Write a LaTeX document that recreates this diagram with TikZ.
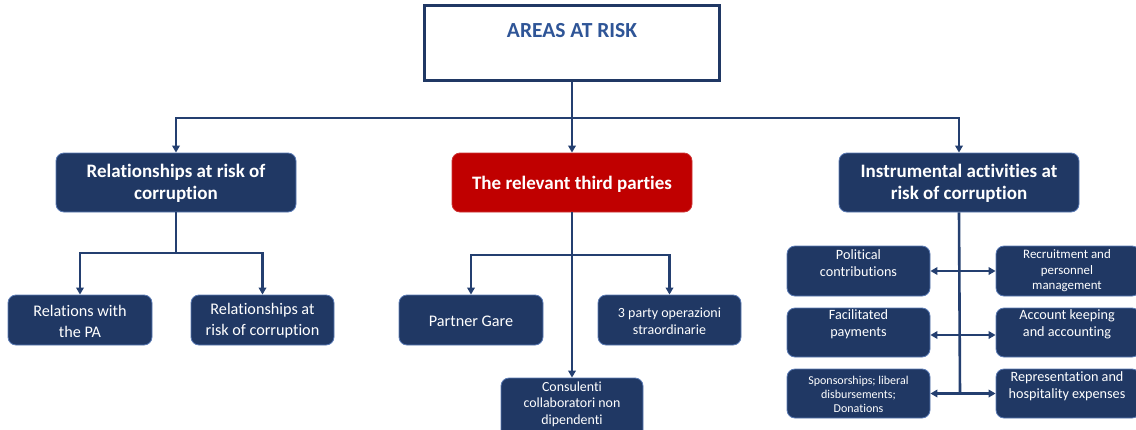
\documentclass[tikz,border=0pt]{standalone}
\usepackage{fontspec}
\setmainfont{Carlito}[Ligatures=NoCommon]
\usetikzlibrary{arrows.meta}
\definecolor{navy}{HTML}{203864}
\definecolor{bord}{HTML}{5B7BB5}
\definecolor{lnc}{HTML}{243F70}
\definecolor{ttl}{HTML}{2F5597}
\definecolor{rd}{HTML}{C00000}
\tikzset{
  bx/.style={draw=bord, line width=0.8pt, fill=navy, rounded corners=8pt, inner sep=0pt},
  rbx/.style={bx, fill=rd, draw=rd!80!white},
  tw/.style={text=white, align=center, inner sep=0pt},
  lnk/.style={draw=lnc, line width=2.6pt},
  arr/.style={lnk, -{Triangle[length=7pt,width=7.5pt]}},
  darr/.style={lnk, {Triangle[length=7pt,width=7.5pt]}-{Triangle[length=7pt,width=7.5pt]}},
  f1/.style={font=\fontsize{19}{22}\selectfont\bfseries},
  f2/.style={font=\fontsize{16.2}{21}\selectfont},
  f3/.style={font=\fontsize{14.2}{17}\selectfont},
}
\begin{document}
\begin{tikzpicture}[x=1pt,y=-1pt]
\useasboundingbox[fill=white] (0,0) rectangle (1136,429);
% top
\node[draw=navy, line width=3pt, fill=white, minimum width=295pt, minimum height=75pt, inner sep=0pt] (top) at (572,42.5) {};
\node[text=ttl, inner sep=0pt, font=\fontsize{21.5}{24}\selectfont\bfseries] (topt) at (572,31) {AREAS AT RISK};
% level 1
\node[bx, minimum width=240pt, minimum height=59pt] (L1) at (176,182.5) {};
\node[tw, f1] (L1t) at (176,183) {Relationships at risk of\\corruption};
\node[rbx, minimum width=240pt, minimum height=59pt] (M1) at (572,182.5) {};
\node[tw, f1] (M1t) at (572,184) {The relevant third parties};
\node[bx, minimum width=240pt, minimum height=59pt] (R1) at (959,182.5) {};
\node[tw, f1] (R1t) at (959,183) {Instrumental activities at\\risk of corruption};
% left subtree
\node[bx, minimum width=144pt, minimum height=50pt] (L2a) at (80,320) {};
\node[tw, f2] (L2at) at (80,321) {Relations with\\the PA};
\node[bx, minimum width=143pt, minimum height=50pt] (L2b) at (262.5,320) {};
\node[tw, f2] (L2bt) at (262.5,321) {Relationships at\\risk of corruption};
% middle subtree
\node[bx, minimum width=144pt, minimum height=50pt] (M2a) at (471,320) {};
\node[tw, f2] (M2at) at (471,321) {Partner Gare};
\node[bx, minimum width=143pt, minimum height=50pt] (M2b) at (669.5,320) {};
\node[tw, font=\fontsize{14}{17}\selectfont] (M2bt) at (669.5,321) {3 party operazioni\\straordinarie};
\node[bx, minimum width=142pt, minimum height=60pt] (M3) at (572,408) {};
\node[tw, font=\fontsize{13.9}{16.5}\selectfont] (M3t) at (572,404) {Consulenti\\collaboratori non\\dipendenti};
% right subtree
\node[bx, minimum width=143pt, minimum height=50pt] (RL1) at (858.5,271) {};
\node[tw, f3] (RL1t) at (858.5,263) {Political\\contributions};
\node[bx, minimum width=144pt, minimum height=50pt] (RR1) at (1068,271) {};
\node[tw, font=\fontsize{12.9}{15.5}\selectfont] (RR1t) at (1067,271) {Recruitment and\\personnel\\management};
\node[bx, minimum width=143pt, minimum height=49pt] (RL2) at (858.5,332.5) {};
\node[tw, f3] (RL2t) at (858.5,324.5) {Facilitated\\payments};
\node[bx, minimum width=144pt, minimum height=49pt] (RR2) at (1068,332.5) {};
\node[tw, f3] (RR2t) at (1067,324.5) {Account keeping\\and accounting};
\node[bx, minimum width=143pt, minimum height=49pt] (RL3) at (858.5,393.5) {};
\node[tw, font=\fontsize{12}{14}\selectfont] (RL3t) at (858.5,394) {Sponsorships; liberal\\disbursements;\\Donations};
\node[bx, minimum width=144pt, minimum height=49pt] (RR3) at (1068,393.5) {};
\node[tw, f3] (RR3t) at (1067,386.5) {Representation and\\hospitality expenses};
% connectors
\coordinate (j0) at (572,118);
\coordinate (jL) at (176,253);
\coordinate (jM) at (572,255);
\coordinate (rend) at (960,394);
\draw[lnk] (top.south) -- (j0);
\draw[arr] (j0) -| (L1.north);
\draw[arr] (j0) -- (M1.north);
\draw[arr] (j0) -| (R1.north);
\draw[lnk] (L1.south) -- (jL);
\draw[arr] (jL) -| (L2a.north);
\draw[arr] (jL) -| (L2b.north);
\draw[arr] (M1.south) -- (M3.north);
\draw[arr] (jM) -| (M2a.north);
\draw[arr] (jM) -| (M2b.north);
\draw[lnk] (R1.south) -- (rend);
\draw[darr] (RL1.east) -- (RR1.west);
\draw[darr] ([yshift=-2.5pt]RL2.east) -- ([yshift=-2.5pt]RR2.west);
\draw[darr] (RL3.east) -- (RR3.west);
\end{tikzpicture}
\end{document}
